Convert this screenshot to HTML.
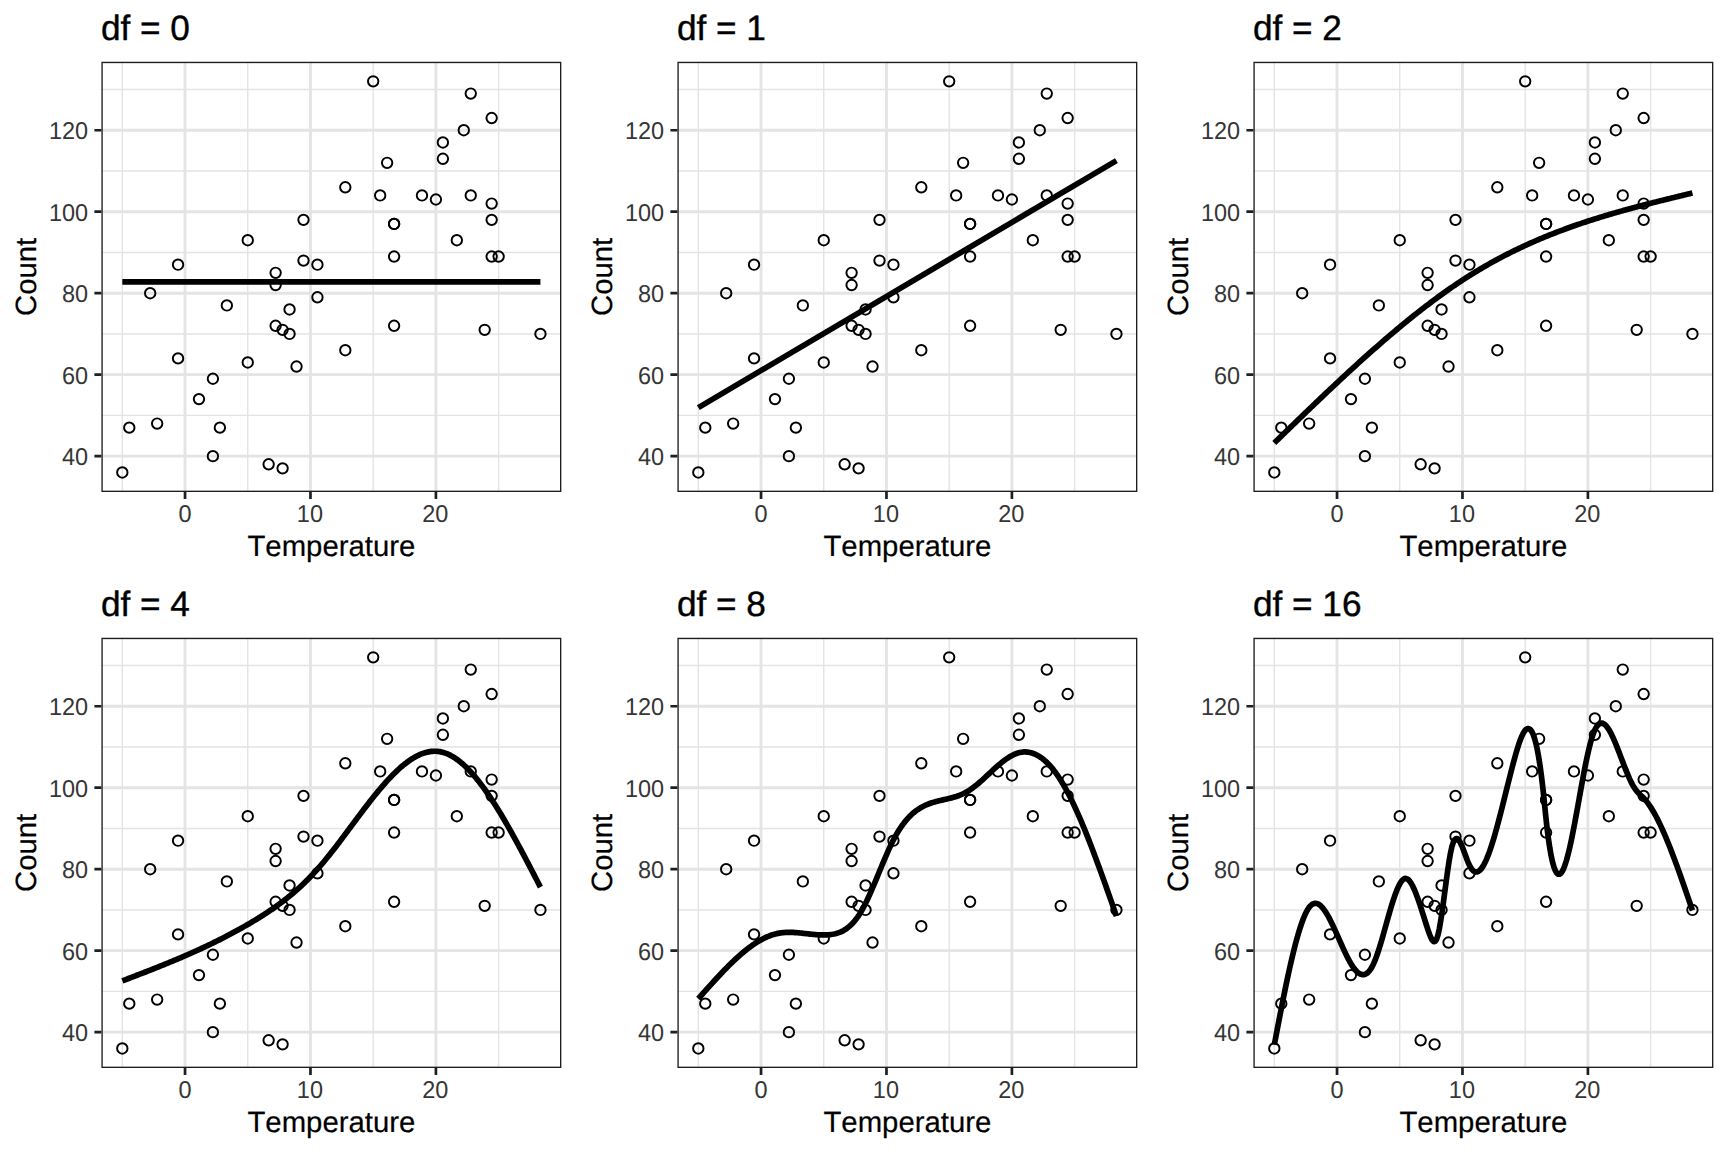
<!DOCTYPE html>
<html lang="en"><head><meta charset="utf-8"><title>Natural spline fits by degrees of freedom</title>
<style>
html,body{margin:0;padding:0;background:#fff}
svg{display:block}
text{font-family:"Liberation Sans",sans-serif;font-kerning:none;text-rendering:geometricPrecision}
.t{font-size:35.2px;fill:#000;stroke:#000;stroke-width:.4px}
.a{font-size:23.47px;fill:#363636}
.l{font-size:29.33px;fill:#000;stroke:#000;stroke-width:.2px}
.mi{stroke:#e4e4e4;stroke-width:1.42;fill:none}
.ma{stroke:#e4e4e4;stroke-width:2.85;fill:none}
.bd{stroke:#1e1e1e;stroke-width:2.7;fill:none}
.tk{stroke:#1f1f1f;stroke-width:2.7;fill:none}
.cv{stroke:#000;stroke-width:5.7;fill:none;stroke-linejoin:round;stroke-linecap:butt}
circle{stroke:#000;stroke-width:1.95;fill:none}
</style></head><body>
<svg width="1728" height="1152" viewBox="0 0 1728 1152">
<defs><clipPath id="pc"><rect x="101.4" y="61.8" width="459.95" height="430.2"/></clipPath></defs>
<rect width="1728" height="1152" fill="#fff"/>
<g transform="translate(0,0)">
<text class="t" x="100.9" y="39.8">df = 0</text>
<g clip-path="url(#pc)">
<rect x="101.4" y="61.8" width="459.95" height="430.2" fill="#fff"/>
<path class="mi" d="M101.4 415.41H561.35M101.4 333.93H561.35M101.4 252.46H561.35M101.4 170.98H561.35M101.4 89.5H561.35M122.31 61.8V492.0M247.75 61.8V492.0M373.19 61.8V492.0M498.63 61.8V492.0"/>
<path class="ma" d="M101.4 456.15H561.35M101.4 374.67H561.35M101.4 293.2H561.35M101.4 211.72H561.35M101.4 130.24H561.35M185.03 61.8V492.0M310.47 61.8V492.0M435.91 61.8V492.0"/>
<circle cx="122.31" cy="472.45" r="5.2"/>
<circle cx="129.28" cy="427.63" r="5.2"/>
<circle cx="157.15" cy="423.56" r="5.2"/>
<circle cx="178.06" cy="358.38" r="5.2"/>
<circle cx="198.97" cy="399.12" r="5.2"/>
<circle cx="212.9" cy="378.75" r="5.2"/>
<circle cx="212.9" cy="456.15" r="5.2"/>
<circle cx="219.87" cy="427.63" r="5.2"/>
<circle cx="247.75" cy="362.45" r="5.2"/>
<circle cx="268.65" cy="464.3" r="5.2"/>
<circle cx="282.59" cy="468.37" r="5.2"/>
<circle cx="296.53" cy="366.52" r="5.2"/>
<circle cx="289.56" cy="333.93" r="5.2"/>
<circle cx="345.31" cy="350.23" r="5.2"/>
<circle cx="150.18" cy="293.2" r="5.2"/>
<circle cx="178.06" cy="264.68" r="5.2"/>
<circle cx="226.84" cy="305.42" r="5.2"/>
<circle cx="247.75" cy="240.24" r="5.2"/>
<circle cx="275.62" cy="272.83" r="5.2"/>
<circle cx="275.62" cy="285.05" r="5.2"/>
<circle cx="275.62" cy="325.79" r="5.2"/>
<circle cx="282.59" cy="329.86" r="5.2"/>
<circle cx="289.56" cy="309.49" r="5.2"/>
<circle cx="303.5" cy="219.87" r="5.2"/>
<circle cx="303.5" cy="260.6" r="5.2"/>
<circle cx="317.44" cy="264.68" r="5.2"/>
<circle cx="317.44" cy="297.27" r="5.2"/>
<circle cx="394.1" cy="223.94" r="5.2"/>
<circle cx="394.1" cy="223.94" r="5.2"/>
<circle cx="394.1" cy="256.53" r="5.2"/>
<circle cx="394.1" cy="325.79" r="5.2"/>
<circle cx="456.82" cy="240.24" r="5.2"/>
<circle cx="491.66" cy="203.57" r="5.2"/>
<circle cx="491.66" cy="219.87" r="5.2"/>
<circle cx="491.66" cy="256.53" r="5.2"/>
<circle cx="498.63" cy="256.53" r="5.2"/>
<circle cx="484.69" cy="329.86" r="5.2"/>
<circle cx="540.44" cy="333.93" r="5.2"/>
<circle cx="380.16" cy="195.42" r="5.2"/>
<circle cx="421.97" cy="195.42" r="5.2"/>
<circle cx="435.91" cy="199.5" r="5.2"/>
<circle cx="470.75" cy="195.42" r="5.2"/>
<circle cx="373.19" cy="81.35" r="5.2"/>
<circle cx="470.75" cy="93.58" r="5.2"/>
<circle cx="491.66" cy="118.02" r="5.2"/>
<circle cx="463.78" cy="130.24" r="5.2"/>
<circle cx="442.88" cy="142.46" r="5.2"/>
<circle cx="442.88" cy="158.76" r="5.2"/>
<circle cx="387.13" cy="162.83" r="5.2"/>
<circle cx="345.31" cy="187.27" r="5.2"/>
<path class="cv" d="M122.31 281.79 L540.44 281.79"/>
<rect class="bd" x="101.4" y="61.8" width="459.95" height="430.2"/>
</g>
<path class="tk" d="M94.4 456.15H101.4M94.4 374.67H101.4M94.4 293.2H101.4M94.4 211.72H101.4M94.4 130.24H101.4M185.03 492.0v7.0M310.47 492.0v7.0M435.91 492.0v7.0"/>
<text class="a" text-anchor="end" transform="translate(88.1,465.05) scale(1,1.04)">40</text>
<text class="a" text-anchor="end" transform="translate(88.1,383.57) scale(1,1.04)">60</text>
<text class="a" text-anchor="end" transform="translate(88.1,302.1) scale(1,1.04)">80</text>
<text class="a" text-anchor="end" transform="translate(88.1,220.62) scale(1,1.04)">100</text>
<text class="a" text-anchor="end" transform="translate(88.1,139.14) scale(1,1.04)">120</text>
<text class="a" text-anchor="middle" transform="translate(185.03,522) scale(1,1.04)">0</text>
<text class="a" text-anchor="middle" transform="translate(309.92,522) scale(1,1.04)">10</text>
<text class="a" text-anchor="middle" transform="translate(435.36,522) scale(1,1.04)">20</text>
<text class="l" text-anchor="middle" x="331.38" y="555.8">Temperature</text>
<text class="l" text-anchor="middle" transform="translate(35.55,276.9) rotate(-90)">Count</text>
</g>
<g transform="translate(576,0)">
<text class="t" x="100.9" y="39.8">df = 1</text>
<g clip-path="url(#pc)">
<rect x="101.4" y="61.8" width="459.95" height="430.2" fill="#fff"/>
<path class="mi" d="M101.4 415.41H561.35M101.4 333.93H561.35M101.4 252.46H561.35M101.4 170.98H561.35M101.4 89.5H561.35M122.31 61.8V492.0M247.75 61.8V492.0M373.19 61.8V492.0M498.63 61.8V492.0"/>
<path class="ma" d="M101.4 456.15H561.35M101.4 374.67H561.35M101.4 293.2H561.35M101.4 211.72H561.35M101.4 130.24H561.35M185.03 61.8V492.0M310.47 61.8V492.0M435.91 61.8V492.0"/>
<circle cx="122.31" cy="472.45" r="5.2"/>
<circle cx="129.28" cy="427.63" r="5.2"/>
<circle cx="157.15" cy="423.56" r="5.2"/>
<circle cx="178.06" cy="358.38" r="5.2"/>
<circle cx="198.97" cy="399.12" r="5.2"/>
<circle cx="212.9" cy="378.75" r="5.2"/>
<circle cx="212.9" cy="456.15" r="5.2"/>
<circle cx="219.87" cy="427.63" r="5.2"/>
<circle cx="247.75" cy="362.45" r="5.2"/>
<circle cx="268.65" cy="464.3" r="5.2"/>
<circle cx="282.59" cy="468.37" r="5.2"/>
<circle cx="296.53" cy="366.52" r="5.2"/>
<circle cx="289.56" cy="333.93" r="5.2"/>
<circle cx="345.31" cy="350.23" r="5.2"/>
<circle cx="150.18" cy="293.2" r="5.2"/>
<circle cx="178.06" cy="264.68" r="5.2"/>
<circle cx="226.84" cy="305.42" r="5.2"/>
<circle cx="247.75" cy="240.24" r="5.2"/>
<circle cx="275.62" cy="272.83" r="5.2"/>
<circle cx="275.62" cy="285.05" r="5.2"/>
<circle cx="275.62" cy="325.79" r="5.2"/>
<circle cx="282.59" cy="329.86" r="5.2"/>
<circle cx="289.56" cy="309.49" r="5.2"/>
<circle cx="303.5" cy="219.87" r="5.2"/>
<circle cx="303.5" cy="260.6" r="5.2"/>
<circle cx="317.44" cy="264.68" r="5.2"/>
<circle cx="317.44" cy="297.27" r="5.2"/>
<circle cx="394.1" cy="223.94" r="5.2"/>
<circle cx="394.1" cy="223.94" r="5.2"/>
<circle cx="394.1" cy="256.53" r="5.2"/>
<circle cx="394.1" cy="325.79" r="5.2"/>
<circle cx="456.82" cy="240.24" r="5.2"/>
<circle cx="491.66" cy="203.57" r="5.2"/>
<circle cx="491.66" cy="219.87" r="5.2"/>
<circle cx="491.66" cy="256.53" r="5.2"/>
<circle cx="498.63" cy="256.53" r="5.2"/>
<circle cx="484.69" cy="329.86" r="5.2"/>
<circle cx="540.44" cy="333.93" r="5.2"/>
<circle cx="380.16" cy="195.42" r="5.2"/>
<circle cx="421.97" cy="195.42" r="5.2"/>
<circle cx="435.91" cy="199.5" r="5.2"/>
<circle cx="470.75" cy="195.42" r="5.2"/>
<circle cx="373.19" cy="81.35" r="5.2"/>
<circle cx="470.75" cy="93.58" r="5.2"/>
<circle cx="491.66" cy="118.02" r="5.2"/>
<circle cx="463.78" cy="130.24" r="5.2"/>
<circle cx="442.88" cy="142.46" r="5.2"/>
<circle cx="442.88" cy="158.76" r="5.2"/>
<circle cx="387.13" cy="162.83" r="5.2"/>
<circle cx="345.31" cy="187.27" r="5.2"/>
<path class="cv" d="M122.31 407.59 L540.44 160.59"/>
<rect class="bd" x="101.4" y="61.8" width="459.95" height="430.2"/>
</g>
<path class="tk" d="M94.4 456.15H101.4M94.4 374.67H101.4M94.4 293.2H101.4M94.4 211.72H101.4M94.4 130.24H101.4M185.03 492.0v7.0M310.47 492.0v7.0M435.91 492.0v7.0"/>
<text class="a" text-anchor="end" transform="translate(88.1,465.05) scale(1,1.04)">40</text>
<text class="a" text-anchor="end" transform="translate(88.1,383.57) scale(1,1.04)">60</text>
<text class="a" text-anchor="end" transform="translate(88.1,302.1) scale(1,1.04)">80</text>
<text class="a" text-anchor="end" transform="translate(88.1,220.62) scale(1,1.04)">100</text>
<text class="a" text-anchor="end" transform="translate(88.1,139.14) scale(1,1.04)">120</text>
<text class="a" text-anchor="middle" transform="translate(185.03,522) scale(1,1.04)">0</text>
<text class="a" text-anchor="middle" transform="translate(309.92,522) scale(1,1.04)">10</text>
<text class="a" text-anchor="middle" transform="translate(435.36,522) scale(1,1.04)">20</text>
<text class="l" text-anchor="middle" x="331.38" y="555.8">Temperature</text>
<text class="l" text-anchor="middle" transform="translate(35.55,276.9) rotate(-90)">Count</text>
</g>
<g transform="translate(1152,0)">
<text class="t" x="100.9" y="39.8">df = 2</text>
<g clip-path="url(#pc)">
<rect x="101.4" y="61.8" width="459.95" height="430.2" fill="#fff"/>
<path class="mi" d="M101.4 415.41H561.35M101.4 333.93H561.35M101.4 252.46H561.35M101.4 170.98H561.35M101.4 89.5H561.35M122.31 61.8V492.0M247.75 61.8V492.0M373.19 61.8V492.0M498.63 61.8V492.0"/>
<path class="ma" d="M101.4 456.15H561.35M101.4 374.67H561.35M101.4 293.2H561.35M101.4 211.72H561.35M101.4 130.24H561.35M185.03 61.8V492.0M310.47 61.8V492.0M435.91 61.8V492.0"/>
<circle cx="122.31" cy="472.45" r="5.2"/>
<circle cx="129.28" cy="427.63" r="5.2"/>
<circle cx="157.15" cy="423.56" r="5.2"/>
<circle cx="178.06" cy="358.38" r="5.2"/>
<circle cx="198.97" cy="399.12" r="5.2"/>
<circle cx="212.9" cy="378.75" r="5.2"/>
<circle cx="212.9" cy="456.15" r="5.2"/>
<circle cx="219.87" cy="427.63" r="5.2"/>
<circle cx="247.75" cy="362.45" r="5.2"/>
<circle cx="268.65" cy="464.3" r="5.2"/>
<circle cx="282.59" cy="468.37" r="5.2"/>
<circle cx="296.53" cy="366.52" r="5.2"/>
<circle cx="289.56" cy="333.93" r="5.2"/>
<circle cx="345.31" cy="350.23" r="5.2"/>
<circle cx="150.18" cy="293.2" r="5.2"/>
<circle cx="178.06" cy="264.68" r="5.2"/>
<circle cx="226.84" cy="305.42" r="5.2"/>
<circle cx="247.75" cy="240.24" r="5.2"/>
<circle cx="275.62" cy="272.83" r="5.2"/>
<circle cx="275.62" cy="285.05" r="5.2"/>
<circle cx="275.62" cy="325.79" r="5.2"/>
<circle cx="282.59" cy="329.86" r="5.2"/>
<circle cx="289.56" cy="309.49" r="5.2"/>
<circle cx="303.5" cy="219.87" r="5.2"/>
<circle cx="303.5" cy="260.6" r="5.2"/>
<circle cx="317.44" cy="264.68" r="5.2"/>
<circle cx="317.44" cy="297.27" r="5.2"/>
<circle cx="394.1" cy="223.94" r="5.2"/>
<circle cx="394.1" cy="223.94" r="5.2"/>
<circle cx="394.1" cy="256.53" r="5.2"/>
<circle cx="394.1" cy="325.79" r="5.2"/>
<circle cx="456.82" cy="240.24" r="5.2"/>
<circle cx="491.66" cy="203.57" r="5.2"/>
<circle cx="491.66" cy="219.87" r="5.2"/>
<circle cx="491.66" cy="256.53" r="5.2"/>
<circle cx="498.63" cy="256.53" r="5.2"/>
<circle cx="484.69" cy="329.86" r="5.2"/>
<circle cx="540.44" cy="333.93" r="5.2"/>
<circle cx="380.16" cy="195.42" r="5.2"/>
<circle cx="421.97" cy="195.42" r="5.2"/>
<circle cx="435.91" cy="199.5" r="5.2"/>
<circle cx="470.75" cy="195.42" r="5.2"/>
<circle cx="373.19" cy="81.35" r="5.2"/>
<circle cx="470.75" cy="93.58" r="5.2"/>
<circle cx="491.66" cy="118.02" r="5.2"/>
<circle cx="463.78" cy="130.24" r="5.2"/>
<circle cx="442.88" cy="142.46" r="5.2"/>
<circle cx="442.88" cy="158.76" r="5.2"/>
<circle cx="387.13" cy="162.83" r="5.2"/>
<circle cx="345.31" cy="187.27" r="5.2"/>
<path class="cv" d="M122.31 442.93 L123.71 441.57 L125.1 440.21 L126.5 438.86 L127.9 437.5 L129.3 436.14 L130.7 434.79 L132.1 433.43 L133.49 432.07 L134.89 430.72 L136.29 429.36 L137.69 428.01 L139.09 426.65 L140.49 425.3 L141.89 423.95 L143.28 422.59 L144.68 421.24 L146.08 419.89 L147.48 418.54 L148.88 417.19 L150.28 415.85 L151.67 414.5 L153.07 413.15 L154.47 411.81 L155.87 410.46 L157.27 409.12 L158.67 407.78 L160.06 406.44 L161.46 405.1 L162.86 403.76 L164.26 402.43 L165.66 401.09 L167.06 399.76 L168.46 398.43 L169.85 397.1 L171.25 395.77 L172.65 394.44 L174.05 393.12 L175.45 391.79 L176.85 390.47 L178.24 389.15 L179.64 387.84 L181.04 386.52 L182.44 385.21 L183.84 383.9 L185.24 382.59 L186.64 381.28 L188.03 379.98 L189.43 378.67 L190.83 377.37 L192.23 376.08 L193.63 374.78 L195.03 373.49 L196.42 372.2 L197.82 370.91 L199.22 369.63 L200.62 368.34 L202.02 367.06 L203.42 365.79 L204.82 364.51 L206.21 363.24 L207.61 361.97 L209.01 360.71 L210.41 359.45 L211.81 358.19 L213.21 356.93 L214.6 355.68 L216 354.43 L217.4 353.19 L218.8 351.94 L220.2 350.7 L221.6 349.47 L223 348.24 L224.39 347.01 L225.79 345.78 L227.19 344.56 L228.59 343.34 L229.99 342.13 L231.39 340.92 L232.78 339.71 L234.18 338.51 L235.58 337.31 L236.98 336.11 L238.38 334.92 L239.78 333.74 L241.18 332.55 L242.57 331.37 L243.97 330.2 L245.37 329.03 L246.77 327.86 L248.17 326.7 L249.57 325.54 L250.96 324.39 L252.36 323.24 L253.76 322.1 L255.16 320.96 L256.56 319.83 L257.96 318.7 L259.35 317.57 L260.75 316.45 L262.15 315.34 L263.55 314.23 L264.95 313.12 L266.35 312.02 L267.75 310.92 L269.14 309.83 L270.54 308.75 L271.94 307.67 L273.34 306.59 L274.74 305.52 L276.14 304.46 L277.53 303.4 L278.93 302.35 L280.33 301.3 L281.73 300.26 L283.13 299.22 L284.53 298.19 L285.93 297.16 L287.32 296.14 L288.72 295.13 L290.12 294.12 L291.52 293.12 L292.92 292.12 L294.32 291.13 L295.71 290.15 L297.11 289.17 L298.51 288.2 L299.91 287.23 L301.31 286.27 L302.71 285.32 L304.11 284.37 L305.5 283.43 L306.9 282.5 L308.3 281.57 L309.7 280.65 L311.1 279.73 L312.5 278.82 L313.89 277.92 L315.29 277.03 L316.69 276.14 L318.09 275.26 L319.49 274.38 L320.89 273.51 L322.29 272.65 L323.68 271.8 L325.08 270.95 L326.48 270.11 L327.88 269.28 L329.28 268.45 L330.68 267.63 L332.07 266.81 L333.47 266 L334.87 265.2 L336.27 264.4 L337.67 263.61 L339.07 262.83 L340.46 262.05 L341.86 261.28 L343.26 260.51 L344.66 259.75 L346.06 259 L347.46 258.25 L348.86 257.51 L350.25 256.78 L351.65 256.05 L353.05 255.32 L354.45 254.6 L355.85 253.89 L357.25 253.18 L358.64 252.48 L360.04 251.79 L361.44 251.1 L362.84 250.41 L364.24 249.73 L365.64 249.06 L367.04 248.39 L368.43 247.72 L369.83 247.07 L371.23 246.41 L372.63 245.77 L374.03 245.12 L375.43 244.49 L376.82 243.85 L378.22 243.23 L379.62 242.6 L381.02 241.99 L382.42 241.37 L383.82 240.76 L385.22 240.16 L386.61 239.56 L388.01 238.97 L389.41 238.38 L390.81 237.8 L392.21 237.22 L393.61 236.64 L395 236.07 L396.4 235.5 L397.8 234.94 L399.2 234.39 L400.6 233.83 L402 233.28 L403.4 232.74 L404.79 232.2 L406.19 231.66 L407.59 231.13 L408.99 230.6 L410.39 230.08 L411.79 229.56 L413.18 229.04 L414.58 228.53 L415.98 228.02 L417.38 227.52 L418.78 227.01 L420.18 226.52 L421.57 226.02 L422.97 225.53 L424.37 225.05 L425.77 224.57 L427.17 224.09 L428.57 223.61 L429.97 223.14 L431.36 222.67 L432.76 222.2 L434.16 221.74 L435.56 221.28 L436.96 220.83 L438.36 220.37 L439.75 219.93 L441.15 219.48 L442.55 219.04 L443.95 218.59 L445.35 218.16 L446.75 217.72 L448.15 217.29 L449.54 216.86 L450.94 216.44 L452.34 216.01 L453.74 215.59 L455.14 215.17 L456.54 214.76 L457.93 214.35 L459.33 213.94 L460.73 213.53 L462.13 213.12 L463.53 212.72 L464.93 212.32 L466.33 211.92 L467.72 211.53 L469.12 211.13 L470.52 210.74 L471.92 210.35 L473.32 209.96 L474.72 209.58 L476.11 209.19 L477.51 208.81 L478.91 208.43 L480.31 208.06 L481.71 207.68 L483.11 207.31 L484.51 206.94 L485.9 206.56 L487.3 206.2 L488.7 205.83 L490.1 205.46 L491.5 205.1 L492.9 204.74 L494.29 204.38 L495.69 204.02 L497.09 203.66 L498.49 203.3 L499.89 202.95 L501.29 202.59 L502.69 202.24 L504.08 201.89 L505.48 201.54 L506.88 201.19 L508.28 200.84 L509.68 200.49 L511.08 200.14 L512.47 199.8 L513.87 199.45 L515.27 199.11 L516.67 198.76 L518.07 198.42 L519.47 198.08 L520.86 197.74 L522.26 197.4 L523.66 197.05 L525.06 196.72 L526.46 196.38 L527.86 196.04 L529.26 195.7 L530.65 195.36 L532.05 195.02 L533.45 194.68 L534.85 194.35 L536.25 194.01 L537.65 193.67 L539.04 193.34 L540.44 193"/>
<rect class="bd" x="101.4" y="61.8" width="459.95" height="430.2"/>
</g>
<path class="tk" d="M94.4 456.15H101.4M94.4 374.67H101.4M94.4 293.2H101.4M94.4 211.72H101.4M94.4 130.24H101.4M185.03 492.0v7.0M310.47 492.0v7.0M435.91 492.0v7.0"/>
<text class="a" text-anchor="end" transform="translate(88.1,465.05) scale(1,1.04)">40</text>
<text class="a" text-anchor="end" transform="translate(88.1,383.57) scale(1,1.04)">60</text>
<text class="a" text-anchor="end" transform="translate(88.1,302.1) scale(1,1.04)">80</text>
<text class="a" text-anchor="end" transform="translate(88.1,220.62) scale(1,1.04)">100</text>
<text class="a" text-anchor="end" transform="translate(88.1,139.14) scale(1,1.04)">120</text>
<text class="a" text-anchor="middle" transform="translate(185.03,522) scale(1,1.04)">0</text>
<text class="a" text-anchor="middle" transform="translate(309.92,522) scale(1,1.04)">10</text>
<text class="a" text-anchor="middle" transform="translate(435.36,522) scale(1,1.04)">20</text>
<text class="l" text-anchor="middle" x="331.38" y="555.8">Temperature</text>
<text class="l" text-anchor="middle" transform="translate(35.55,276.9) rotate(-90)">Count</text>
</g>
<g transform="translate(0,576)">
<text class="t" x="100.9" y="39.8">df = 4</text>
<g clip-path="url(#pc)">
<rect x="101.4" y="61.8" width="459.95" height="430.2" fill="#fff"/>
<path class="mi" d="M101.4 415.41H561.35M101.4 333.93H561.35M101.4 252.46H561.35M101.4 170.98H561.35M101.4 89.5H561.35M122.31 61.8V492.0M247.75 61.8V492.0M373.19 61.8V492.0M498.63 61.8V492.0"/>
<path class="ma" d="M101.4 456.15H561.35M101.4 374.67H561.35M101.4 293.2H561.35M101.4 211.72H561.35M101.4 130.24H561.35M185.03 61.8V492.0M310.47 61.8V492.0M435.91 61.8V492.0"/>
<circle cx="122.31" cy="472.45" r="5.2"/>
<circle cx="129.28" cy="427.63" r="5.2"/>
<circle cx="157.15" cy="423.56" r="5.2"/>
<circle cx="178.06" cy="358.38" r="5.2"/>
<circle cx="198.97" cy="399.12" r="5.2"/>
<circle cx="212.9" cy="378.75" r="5.2"/>
<circle cx="212.9" cy="456.15" r="5.2"/>
<circle cx="219.87" cy="427.63" r="5.2"/>
<circle cx="247.75" cy="362.45" r="5.2"/>
<circle cx="268.65" cy="464.3" r="5.2"/>
<circle cx="282.59" cy="468.37" r="5.2"/>
<circle cx="296.53" cy="366.52" r="5.2"/>
<circle cx="289.56" cy="333.93" r="5.2"/>
<circle cx="345.31" cy="350.23" r="5.2"/>
<circle cx="150.18" cy="293.2" r="5.2"/>
<circle cx="178.06" cy="264.68" r="5.2"/>
<circle cx="226.84" cy="305.42" r="5.2"/>
<circle cx="247.75" cy="240.24" r="5.2"/>
<circle cx="275.62" cy="272.83" r="5.2"/>
<circle cx="275.62" cy="285.05" r="5.2"/>
<circle cx="275.62" cy="325.79" r="5.2"/>
<circle cx="282.59" cy="329.86" r="5.2"/>
<circle cx="289.56" cy="309.49" r="5.2"/>
<circle cx="303.5" cy="219.87" r="5.2"/>
<circle cx="303.5" cy="260.6" r="5.2"/>
<circle cx="317.44" cy="264.68" r="5.2"/>
<circle cx="317.44" cy="297.27" r="5.2"/>
<circle cx="394.1" cy="223.94" r="5.2"/>
<circle cx="394.1" cy="223.94" r="5.2"/>
<circle cx="394.1" cy="256.53" r="5.2"/>
<circle cx="394.1" cy="325.79" r="5.2"/>
<circle cx="456.82" cy="240.24" r="5.2"/>
<circle cx="491.66" cy="203.57" r="5.2"/>
<circle cx="491.66" cy="219.87" r="5.2"/>
<circle cx="491.66" cy="256.53" r="5.2"/>
<circle cx="498.63" cy="256.53" r="5.2"/>
<circle cx="484.69" cy="329.86" r="5.2"/>
<circle cx="540.44" cy="333.93" r="5.2"/>
<circle cx="380.16" cy="195.42" r="5.2"/>
<circle cx="421.97" cy="195.42" r="5.2"/>
<circle cx="435.91" cy="199.5" r="5.2"/>
<circle cx="470.75" cy="195.42" r="5.2"/>
<circle cx="373.19" cy="81.35" r="5.2"/>
<circle cx="470.75" cy="93.58" r="5.2"/>
<circle cx="491.66" cy="118.02" r="5.2"/>
<circle cx="463.78" cy="130.24" r="5.2"/>
<circle cx="442.88" cy="142.46" r="5.2"/>
<circle cx="442.88" cy="158.76" r="5.2"/>
<circle cx="387.13" cy="162.83" r="5.2"/>
<circle cx="345.31" cy="187.27" r="5.2"/>
<path class="cv" d="M122.31 404.91 L123.71 404.38 L125.1 403.84 L126.5 403.3 L127.9 402.76 L129.3 402.23 L130.7 401.69 L132.1 401.15 L133.49 400.61 L134.89 400.07 L136.29 399.53 L137.69 398.99 L139.09 398.45 L140.49 397.91 L141.89 397.36 L143.28 396.82 L144.68 396.27 L146.08 395.73 L147.48 395.18 L148.88 394.63 L150.28 394.08 L151.67 393.53 L153.07 392.98 L154.47 392.42 L155.87 391.87 L157.27 391.31 L158.67 390.75 L160.06 390.19 L161.46 389.63 L162.86 389.06 L164.26 388.49 L165.66 387.93 L167.06 387.35 L168.46 386.78 L169.85 386.21 L171.25 385.63 L172.65 385.05 L174.05 384.46 L175.45 383.88 L176.85 383.29 L178.24 382.7 L179.64 382.11 L181.04 381.51 L182.44 380.91 L183.84 380.31 L185.24 379.71 L186.64 379.1 L188.03 378.49 L189.43 377.87 L190.83 377.25 L192.23 376.63 L193.63 376.01 L195.03 375.38 L196.42 374.75 L197.82 374.11 L199.22 373.47 L200.62 372.83 L202.02 372.18 L203.42 371.53 L204.82 370.88 L206.21 370.22 L207.61 369.56 L209.01 368.89 L210.41 368.22 L211.81 367.54 L213.21 366.86 L214.6 366.18 L216 365.49 L217.4 364.8 L218.8 364.1 L220.2 363.4 L221.6 362.69 L223 361.98 L224.39 361.26 L225.79 360.54 L227.19 359.81 L228.59 359.08 L229.99 358.34 L231.39 357.59 L232.78 356.84 L234.18 356.09 L235.58 355.33 L236.98 354.57 L238.38 353.79 L239.78 353.02 L241.18 352.24 L242.57 351.45 L243.97 350.65 L245.37 349.85 L246.77 349.05 L248.17 348.24 L249.57 347.42 L250.96 346.59 L252.36 345.76 L253.76 344.92 L255.16 344.08 L256.56 343.23 L257.96 342.37 L259.35 341.5 L260.75 340.63 L262.15 339.75 L263.55 338.85 L264.95 337.95 L266.35 337.04 L267.75 336.12 L269.14 335.18 L270.54 334.24 L271.94 333.28 L273.34 332.31 L274.74 331.33 L276.14 330.34 L277.53 329.33 L278.93 328.31 L280.33 327.28 L281.73 326.23 L283.13 325.16 L284.53 324.08 L285.93 322.99 L287.32 321.88 L288.72 320.75 L290.12 319.6 L291.52 318.44 L292.92 317.26 L294.32 316.06 L295.71 314.84 L297.11 313.61 L298.51 312.35 L299.91 311.07 L301.31 309.78 L302.71 308.46 L304.11 307.12 L305.5 305.76 L306.9 304.38 L308.3 302.98 L309.7 301.55 L311.1 300.1 L312.5 298.62 L313.89 297.13 L315.29 295.6 L316.69 294.06 L318.09 292.48 L319.49 290.89 L320.89 289.26 L322.29 287.62 L323.68 285.95 L325.08 284.27 L326.48 282.56 L327.88 280.83 L329.28 279.09 L330.68 277.33 L332.07 275.55 L333.47 273.76 L334.87 271.96 L336.27 270.14 L337.67 268.32 L339.07 266.48 L340.46 264.63 L341.86 262.78 L343.26 260.91 L344.66 259.05 L346.06 257.17 L347.46 255.3 L348.86 253.42 L350.25 251.53 L351.65 249.65 L353.05 247.77 L354.45 245.89 L355.85 244.01 L357.25 242.14 L358.64 240.27 L360.04 238.4 L361.44 236.54 L362.84 234.69 L364.24 232.85 L365.64 231.02 L367.04 229.2 L368.43 227.39 L369.83 225.59 L371.23 223.81 L372.63 222.04 L374.03 220.29 L375.43 218.56 L376.82 216.84 L378.22 215.15 L379.62 213.47 L381.02 211.81 L382.42 210.18 L383.82 208.57 L385.22 206.99 L386.61 205.43 L388.01 203.9 L389.41 202.4 L390.81 200.92 L392.21 199.48 L393.61 198.06 L395 196.68 L396.4 195.33 L397.8 194.02 L399.2 192.74 L400.6 191.49 L402 190.28 L403.4 189.12 L404.79 187.99 L406.19 186.9 L407.59 185.85 L408.99 184.85 L410.39 183.89 L411.79 182.97 L413.18 182.1 L414.58 181.28 L415.98 180.5 L417.38 179.77 L418.78 179.1 L420.18 178.47 L421.57 177.9 L422.97 177.38 L424.37 176.91 L425.77 176.5 L427.17 176.14 L428.57 175.84 L429.97 175.6 L431.36 175.42 L432.76 175.3 L434.16 175.24 L435.56 175.25 L436.96 175.32 L438.36 175.45 L439.75 175.65 L441.15 175.91 L442.55 176.25 L443.95 176.65 L445.35 177.11 L446.75 177.64 L448.15 178.24 L449.54 178.89 L450.94 179.61 L452.34 180.4 L453.74 181.24 L455.14 182.14 L456.54 183.1 L457.93 184.11 L459.33 185.18 L460.73 186.31 L462.13 187.5 L463.53 188.73 L464.93 190.02 L466.33 191.36 L467.72 192.75 L469.12 194.19 L470.52 195.68 L471.92 197.22 L473.32 198.8 L474.72 200.43 L476.11 202.11 L477.51 203.82 L478.91 205.59 L480.31 207.39 L481.71 209.23 L483.11 211.12 L484.51 213.04 L485.9 215 L487.3 217 L488.7 219.04 L490.1 221.11 L491.5 223.22 L492.9 225.36 L494.29 227.53 L495.69 229.73 L497.09 231.96 L498.49 234.23 L499.89 236.52 L501.29 238.84 L502.69 241.19 L504.08 243.56 L505.48 245.95 L506.88 248.38 L508.28 250.82 L509.68 253.29 L511.08 255.77 L512.47 258.28 L513.87 260.81 L515.27 263.35 L516.67 265.91 L518.07 268.49 L519.47 271.08 L520.86 273.69 L522.26 276.31 L523.66 278.94 L525.06 281.59 L526.46 284.24 L527.86 286.91 L529.26 289.58 L530.65 292.26 L532.05 294.95 L533.45 297.64 L534.85 300.34 L536.25 303.04 L537.65 305.75 L539.04 308.45 L540.44 311.16"/>
<rect class="bd" x="101.4" y="61.8" width="459.95" height="430.2"/>
</g>
<path class="tk" d="M94.4 456.15H101.4M94.4 374.67H101.4M94.4 293.2H101.4M94.4 211.72H101.4M94.4 130.24H101.4M185.03 492.0v7.0M310.47 492.0v7.0M435.91 492.0v7.0"/>
<text class="a" text-anchor="end" transform="translate(88.1,465.05) scale(1,1.04)">40</text>
<text class="a" text-anchor="end" transform="translate(88.1,383.57) scale(1,1.04)">60</text>
<text class="a" text-anchor="end" transform="translate(88.1,302.1) scale(1,1.04)">80</text>
<text class="a" text-anchor="end" transform="translate(88.1,220.62) scale(1,1.04)">100</text>
<text class="a" text-anchor="end" transform="translate(88.1,139.14) scale(1,1.04)">120</text>
<text class="a" text-anchor="middle" transform="translate(185.03,522) scale(1,1.04)">0</text>
<text class="a" text-anchor="middle" transform="translate(309.92,522) scale(1,1.04)">10</text>
<text class="a" text-anchor="middle" transform="translate(435.36,522) scale(1,1.04)">20</text>
<text class="l" text-anchor="middle" x="331.38" y="555.8">Temperature</text>
<text class="l" text-anchor="middle" transform="translate(35.55,276.9) rotate(-90)">Count</text>
</g>
<g transform="translate(576,576)">
<text class="t" x="100.9" y="39.8">df = 8</text>
<g clip-path="url(#pc)">
<rect x="101.4" y="61.8" width="459.95" height="430.2" fill="#fff"/>
<path class="mi" d="M101.4 415.41H561.35M101.4 333.93H561.35M101.4 252.46H561.35M101.4 170.98H561.35M101.4 89.5H561.35M122.31 61.8V492.0M247.75 61.8V492.0M373.19 61.8V492.0M498.63 61.8V492.0"/>
<path class="ma" d="M101.4 456.15H561.35M101.4 374.67H561.35M101.4 293.2H561.35M101.4 211.72H561.35M101.4 130.24H561.35M185.03 61.8V492.0M310.47 61.8V492.0M435.91 61.8V492.0"/>
<circle cx="122.31" cy="472.45" r="5.2"/>
<circle cx="129.28" cy="427.63" r="5.2"/>
<circle cx="157.15" cy="423.56" r="5.2"/>
<circle cx="178.06" cy="358.38" r="5.2"/>
<circle cx="198.97" cy="399.12" r="5.2"/>
<circle cx="212.9" cy="378.75" r="5.2"/>
<circle cx="212.9" cy="456.15" r="5.2"/>
<circle cx="219.87" cy="427.63" r="5.2"/>
<circle cx="247.75" cy="362.45" r="5.2"/>
<circle cx="268.65" cy="464.3" r="5.2"/>
<circle cx="282.59" cy="468.37" r="5.2"/>
<circle cx="296.53" cy="366.52" r="5.2"/>
<circle cx="289.56" cy="333.93" r="5.2"/>
<circle cx="345.31" cy="350.23" r="5.2"/>
<circle cx="150.18" cy="293.2" r="5.2"/>
<circle cx="178.06" cy="264.68" r="5.2"/>
<circle cx="226.84" cy="305.42" r="5.2"/>
<circle cx="247.75" cy="240.24" r="5.2"/>
<circle cx="275.62" cy="272.83" r="5.2"/>
<circle cx="275.62" cy="285.05" r="5.2"/>
<circle cx="275.62" cy="325.79" r="5.2"/>
<circle cx="282.59" cy="329.86" r="5.2"/>
<circle cx="289.56" cy="309.49" r="5.2"/>
<circle cx="303.5" cy="219.87" r="5.2"/>
<circle cx="303.5" cy="260.6" r="5.2"/>
<circle cx="317.44" cy="264.68" r="5.2"/>
<circle cx="317.44" cy="297.27" r="5.2"/>
<circle cx="394.1" cy="223.94" r="5.2"/>
<circle cx="394.1" cy="223.94" r="5.2"/>
<circle cx="394.1" cy="256.53" r="5.2"/>
<circle cx="394.1" cy="325.79" r="5.2"/>
<circle cx="456.82" cy="240.24" r="5.2"/>
<circle cx="491.66" cy="203.57" r="5.2"/>
<circle cx="491.66" cy="219.87" r="5.2"/>
<circle cx="491.66" cy="256.53" r="5.2"/>
<circle cx="498.63" cy="256.53" r="5.2"/>
<circle cx="484.69" cy="329.86" r="5.2"/>
<circle cx="540.44" cy="333.93" r="5.2"/>
<circle cx="380.16" cy="195.42" r="5.2"/>
<circle cx="421.97" cy="195.42" r="5.2"/>
<circle cx="435.91" cy="199.5" r="5.2"/>
<circle cx="470.75" cy="195.42" r="5.2"/>
<circle cx="373.19" cy="81.35" r="5.2"/>
<circle cx="470.75" cy="93.58" r="5.2"/>
<circle cx="491.66" cy="118.02" r="5.2"/>
<circle cx="463.78" cy="130.24" r="5.2"/>
<circle cx="442.88" cy="142.46" r="5.2"/>
<circle cx="442.88" cy="158.76" r="5.2"/>
<circle cx="387.13" cy="162.83" r="5.2"/>
<circle cx="345.31" cy="187.27" r="5.2"/>
<path class="cv" d="M122.31 422.74 L123.71 421.16 L125.1 419.58 L126.5 418 L127.9 416.42 L129.3 414.84 L130.7 413.27 L132.1 411.7 L133.49 410.14 L134.89 408.59 L136.29 407.04 L137.69 405.5 L139.09 403.97 L140.49 402.45 L141.89 400.94 L143.28 399.44 L144.68 397.96 L146.08 396.48 L147.48 395.02 L148.88 393.58 L150.28 392.15 L151.67 390.73 L153.07 389.33 L154.47 387.95 L155.87 386.59 L157.27 385.25 L158.67 383.93 L160.06 382.63 L161.46 381.35 L162.86 380.1 L164.26 378.86 L165.66 377.65 L167.06 376.47 L168.46 375.31 L169.85 374.18 L171.25 373.08 L172.65 372 L174.05 370.95 L175.45 369.94 L176.85 368.95 L178.24 368 L179.64 367.07 L181.04 366.18 L182.44 365.33 L183.84 364.51 L185.24 363.72 L186.64 362.97 L188.03 362.26 L189.43 361.59 L190.83 360.95 L192.23 360.35 L193.63 359.8 L195.03 359.28 L196.42 358.81 L197.82 358.38 L199.22 357.99 L200.62 357.65 L202.02 357.36 L203.42 357.1 L204.82 356.89 L206.21 356.71 L207.61 356.58 L209.01 356.47 L210.41 356.4 L211.81 356.36 L213.21 356.35 L214.6 356.36 L216 356.4 L217.4 356.46 L218.8 356.54 L220.2 356.64 L221.6 356.75 L223 356.88 L224.39 357.01 L225.79 357.16 L227.19 357.31 L228.59 357.47 L229.99 357.63 L231.39 357.79 L232.78 357.94 L234.18 358.1 L235.58 358.25 L236.98 358.39 L238.38 358.52 L239.78 358.63 L241.18 358.73 L242.57 358.82 L243.97 358.89 L245.37 358.93 L246.77 358.96 L248.17 358.95 L249.57 358.92 L250.96 358.86 L252.36 358.77 L253.76 358.65 L255.16 358.48 L256.56 358.27 L257.96 358.02 L259.35 357.71 L260.75 357.34 L262.15 356.9 L263.55 356.4 L264.95 355.82 L266.35 355.15 L267.75 354.4 L269.14 353.56 L270.54 352.62 L271.94 351.57 L273.34 350.42 L274.74 349.15 L276.14 347.76 L277.53 346.25 L278.93 344.6 L280.33 342.82 L281.73 340.9 L283.13 338.83 L284.53 336.61 L285.93 334.23 L287.32 331.69 L288.72 329.02 L290.12 326.21 L291.52 323.29 L292.92 320.26 L294.32 317.15 L295.71 313.96 L297.11 310.7 L298.51 307.39 L299.91 304.03 L301.31 300.66 L302.71 297.26 L304.11 293.87 L305.5 290.49 L306.9 287.13 L308.3 283.8 L309.7 280.53 L311.1 277.32 L312.5 274.18 L313.89 271.13 L315.29 268.18 L316.69 265.35 L318.09 262.64 L319.49 260.05 L320.89 257.6 L322.29 255.27 L323.68 253.06 L325.08 250.96 L326.48 248.98 L327.88 247.11 L329.28 245.34 L330.68 243.67 L332.07 242.1 L333.47 240.62 L334.87 239.24 L336.27 237.94 L337.67 236.72 L339.07 235.58 L340.46 234.52 L341.86 233.53 L343.26 232.61 L344.66 231.76 L346.06 230.96 L347.46 230.22 L348.86 229.54 L350.25 228.9 L351.65 228.32 L353.05 227.77 L354.45 227.27 L355.85 226.8 L357.25 226.36 L358.64 225.95 L360.04 225.56 L361.44 225.19 L362.84 224.85 L364.24 224.51 L365.64 224.19 L367.04 223.87 L368.43 223.55 L369.83 223.23 L371.23 222.91 L372.63 222.58 L374.03 222.23 L375.43 221.88 L376.82 221.5 L378.22 221.09 L379.62 220.66 L381.02 220.21 L382.42 219.71 L383.82 219.18 L385.22 218.61 L386.61 217.99 L388.01 217.32 L389.41 216.6 L390.81 215.83 L392.21 214.99 L393.61 214.09 L395 213.14 L396.4 212.14 L397.8 211.09 L399.2 210 L400.6 208.87 L402 207.7 L403.4 206.5 L404.79 205.28 L406.19 204.03 L407.59 202.77 L408.99 201.48 L410.39 200.19 L411.79 198.89 L413.18 197.59 L414.58 196.29 L415.98 194.99 L417.38 193.71 L418.78 192.44 L420.18 191.18 L421.57 189.95 L422.97 188.74 L424.37 187.57 L425.77 186.42 L427.17 185.32 L428.57 184.25 L429.97 183.24 L431.36 182.27 L432.76 181.35 L434.16 180.5 L435.56 179.71 L436.96 178.98 L438.36 178.32 L439.75 177.74 L441.15 177.24 L442.55 176.82 L443.95 176.48 L445.35 176.22 L446.75 176.05 L448.15 175.96 L449.54 175.96 L450.94 176.03 L452.34 176.2 L453.74 176.45 L455.14 176.78 L456.54 177.2 L457.93 177.7 L459.33 178.29 L460.73 178.97 L462.13 179.73 L463.53 180.58 L464.93 181.51 L466.33 182.54 L467.72 183.65 L469.12 184.85 L470.52 186.13 L471.92 187.51 L473.32 188.97 L474.72 190.52 L476.11 192.16 L477.51 193.89 L478.91 195.72 L480.31 197.63 L481.71 199.63 L483.11 201.72 L484.51 203.9 L485.9 206.17 L487.3 208.53 L488.7 210.97 L490.1 213.49 L491.5 216.09 L492.9 218.77 L494.29 221.52 L495.69 224.35 L497.09 227.25 L498.49 230.21 L499.89 233.24 L501.29 236.34 L502.69 239.5 L504.08 242.71 L505.48 245.99 L506.88 249.32 L508.28 252.7 L509.68 256.14 L511.08 259.62 L512.47 263.15 L513.87 266.72 L515.27 270.34 L516.67 273.99 L518.07 277.68 L519.47 281.41 L520.86 285.17 L522.26 288.96 L523.66 292.78 L525.06 296.63 L526.46 300.5 L527.86 304.4 L529.26 308.31 L530.65 312.24 L532.05 316.19 L533.45 320.15 L534.85 324.12 L536.25 328.1 L537.65 332.08 L539.04 336.07 L540.44 340.07"/>
<rect class="bd" x="101.4" y="61.8" width="459.95" height="430.2"/>
</g>
<path class="tk" d="M94.4 456.15H101.4M94.4 374.67H101.4M94.4 293.2H101.4M94.4 211.72H101.4M94.4 130.24H101.4M185.03 492.0v7.0M310.47 492.0v7.0M435.91 492.0v7.0"/>
<text class="a" text-anchor="end" transform="translate(88.1,465.05) scale(1,1.04)">40</text>
<text class="a" text-anchor="end" transform="translate(88.1,383.57) scale(1,1.04)">60</text>
<text class="a" text-anchor="end" transform="translate(88.1,302.1) scale(1,1.04)">80</text>
<text class="a" text-anchor="end" transform="translate(88.1,220.62) scale(1,1.04)">100</text>
<text class="a" text-anchor="end" transform="translate(88.1,139.14) scale(1,1.04)">120</text>
<text class="a" text-anchor="middle" transform="translate(185.03,522) scale(1,1.04)">0</text>
<text class="a" text-anchor="middle" transform="translate(309.92,522) scale(1,1.04)">10</text>
<text class="a" text-anchor="middle" transform="translate(435.36,522) scale(1,1.04)">20</text>
<text class="l" text-anchor="middle" x="331.38" y="555.8">Temperature</text>
<text class="l" text-anchor="middle" transform="translate(35.55,276.9) rotate(-90)">Count</text>
</g>
<g transform="translate(1152,576)">
<text class="t" x="100.9" y="39.8">df = 16</text>
<g clip-path="url(#pc)">
<rect x="101.4" y="61.8" width="459.95" height="430.2" fill="#fff"/>
<path class="mi" d="M101.4 415.41H561.35M101.4 333.93H561.35M101.4 252.46H561.35M101.4 170.98H561.35M101.4 89.5H561.35M122.31 61.8V492.0M247.75 61.8V492.0M373.19 61.8V492.0M498.63 61.8V492.0"/>
<path class="ma" d="M101.4 456.15H561.35M101.4 374.67H561.35M101.4 293.2H561.35M101.4 211.72H561.35M101.4 130.24H561.35M185.03 61.8V492.0M310.47 61.8V492.0M435.91 61.8V492.0"/>
<circle cx="122.31" cy="472.45" r="5.2"/>
<circle cx="129.28" cy="427.63" r="5.2"/>
<circle cx="157.15" cy="423.56" r="5.2"/>
<circle cx="178.06" cy="358.38" r="5.2"/>
<circle cx="198.97" cy="399.12" r="5.2"/>
<circle cx="212.9" cy="378.75" r="5.2"/>
<circle cx="212.9" cy="456.15" r="5.2"/>
<circle cx="219.87" cy="427.63" r="5.2"/>
<circle cx="247.75" cy="362.45" r="5.2"/>
<circle cx="268.65" cy="464.3" r="5.2"/>
<circle cx="282.59" cy="468.37" r="5.2"/>
<circle cx="296.53" cy="366.52" r="5.2"/>
<circle cx="289.56" cy="333.93" r="5.2"/>
<circle cx="345.31" cy="350.23" r="5.2"/>
<circle cx="150.18" cy="293.2" r="5.2"/>
<circle cx="178.06" cy="264.68" r="5.2"/>
<circle cx="226.84" cy="305.42" r="5.2"/>
<circle cx="247.75" cy="240.24" r="5.2"/>
<circle cx="275.62" cy="272.83" r="5.2"/>
<circle cx="275.62" cy="285.05" r="5.2"/>
<circle cx="275.62" cy="325.79" r="5.2"/>
<circle cx="282.59" cy="329.86" r="5.2"/>
<circle cx="289.56" cy="309.49" r="5.2"/>
<circle cx="303.5" cy="219.87" r="5.2"/>
<circle cx="303.5" cy="260.6" r="5.2"/>
<circle cx="317.44" cy="264.68" r="5.2"/>
<circle cx="317.44" cy="297.27" r="5.2"/>
<circle cx="394.1" cy="223.94" r="5.2"/>
<circle cx="394.1" cy="223.94" r="5.2"/>
<circle cx="394.1" cy="256.53" r="5.2"/>
<circle cx="394.1" cy="325.79" r="5.2"/>
<circle cx="456.82" cy="240.24" r="5.2"/>
<circle cx="491.66" cy="203.57" r="5.2"/>
<circle cx="491.66" cy="219.87" r="5.2"/>
<circle cx="491.66" cy="256.53" r="5.2"/>
<circle cx="498.63" cy="256.53" r="5.2"/>
<circle cx="484.69" cy="329.86" r="5.2"/>
<circle cx="540.44" cy="333.93" r="5.2"/>
<circle cx="380.16" cy="195.42" r="5.2"/>
<circle cx="421.97" cy="195.42" r="5.2"/>
<circle cx="435.91" cy="199.5" r="5.2"/>
<circle cx="470.75" cy="195.42" r="5.2"/>
<circle cx="373.19" cy="81.35" r="5.2"/>
<circle cx="470.75" cy="93.58" r="5.2"/>
<circle cx="491.66" cy="118.02" r="5.2"/>
<circle cx="463.78" cy="130.24" r="5.2"/>
<circle cx="442.88" cy="142.46" r="5.2"/>
<circle cx="442.88" cy="158.76" r="5.2"/>
<circle cx="387.13" cy="162.83" r="5.2"/>
<circle cx="345.31" cy="187.27" r="5.2"/>
<path class="cv" d="M122.31 468.8 L123.71 461.46 L125.1 454.14 L126.5 446.86 L127.9 439.63 L129.3 432.48 L130.7 425.41 L132.1 418.44 L133.49 411.6 L134.89 404.9 L136.29 398.36 L137.69 391.99 L139.09 385.82 L140.49 379.85 L141.89 374.12 L143.28 368.63 L144.68 363.41 L146.08 358.47 L147.48 353.83 L148.88 349.5 L150.28 345.51 L151.67 341.87 L153.07 338.6 L154.47 335.71 L155.87 333.24 L157.27 331.18 L158.67 329.56 L160.06 328.39 L161.46 327.65 L162.86 327.32 L164.26 327.37 L165.66 327.78 L167.06 328.53 L168.46 329.6 L169.85 330.97 L171.25 332.61 L172.65 334.49 L174.05 336.61 L175.45 338.93 L176.85 341.43 L178.24 344.1 L179.64 346.9 L181.04 349.82 L182.44 352.83 L183.84 355.92 L185.24 359.05 L186.64 362.21 L188.03 365.37 L189.43 368.52 L190.83 371.62 L192.23 374.67 L193.63 377.62 L195.03 380.47 L196.42 383.19 L197.82 385.76 L199.22 388.15 L200.62 390.35 L202.02 392.33 L203.42 394.07 L204.82 395.56 L206.21 396.78 L207.61 397.71 L209.01 398.34 L210.41 398.66 L211.81 398.63 L213.21 398.26 L214.6 397.52 L216 396.4 L217.4 394.87 L218.8 392.93 L220.2 390.55 L221.6 387.73 L223 384.46 L224.39 380.79 L225.79 376.79 L227.19 372.48 L228.59 367.94 L229.99 363.2 L231.39 358.32 L232.78 353.35 L234.18 348.34 L235.58 343.34 L236.98 338.4 L238.38 333.57 L239.78 328.91 L241.18 324.46 L242.57 320.28 L243.97 316.41 L245.37 312.91 L246.77 309.82 L248.17 307.21 L249.57 305.11 L250.96 303.58 L252.36 302.67 L253.76 302.43 L255.16 302.86 L256.56 303.9 L257.96 305.5 L259.35 307.61 L260.75 310.18 L262.15 313.17 L263.55 316.51 L264.95 320.16 L266.35 324.06 L267.75 328.17 L269.14 332.44 L270.54 336.8 L271.94 341.22 L273.34 345.65 L274.74 350.02 L276.14 354.29 L277.53 358.29 L278.93 361.73 L280.33 364.27 L281.73 365.6 L283.13 365.4 L284.53 363.34 L285.93 359.13 L287.32 352.82 L288.72 344.82 L290.12 335.56 L291.52 325.45 L292.92 314.91 L294.32 304.38 L295.71 294.27 L297.11 285 L298.51 277 L299.91 270.68 L301.31 266.29 L302.71 263.64 L304.11 262.54 L305.5 262.78 L306.9 264.14 L308.3 266.42 L309.7 269.42 L311.1 272.91 L312.5 276.7 L313.89 280.57 L315.29 284.32 L316.69 287.74 L318.09 290.61 L319.49 292.86 L320.89 294.49 L322.29 295.52 L323.68 296 L325.08 295.93 L326.48 295.34 L327.88 294.27 L329.28 292.73 L330.68 290.75 L332.07 288.35 L333.47 285.57 L334.87 282.42 L336.27 278.93 L337.67 275.13 L339.07 271.03 L340.46 266.67 L341.86 262.08 L343.26 257.26 L344.66 252.26 L346.06 247.09 L347.46 241.79 L348.86 236.37 L350.25 230.86 L351.65 225.29 L353.05 219.67 L354.45 214.05 L355.85 208.43 L357.25 202.85 L358.64 197.34 L360.04 191.91 L361.44 186.59 L362.84 181.42 L364.24 176.47 L365.64 171.8 L367.04 167.48 L368.43 163.57 L369.83 160.15 L371.23 157.28 L372.63 155.01 L374.03 153.43 L375.43 152.6 L376.82 152.57 L378.22 153.43 L379.62 155.23 L381.02 158.05 L382.42 161.94 L383.82 166.98 L385.22 173.23 L386.61 180.75 L388.01 189.62 L389.41 199.9 L390.81 211.65 L392.21 224.9 L393.61 238.77 L395 251.57 L396.4 262.65 L397.8 272.09 L399.2 279.94 L400.6 286.3 L402 291.24 L403.4 294.82 L404.79 297.13 L406.19 298.24 L407.59 298.23 L408.99 297.18 L410.39 295.15 L411.79 292.23 L413.18 288.49 L414.58 284 L415.98 278.85 L417.38 273.1 L418.78 266.84 L420.18 260.14 L421.57 253.06 L422.97 245.7 L424.37 238.13 L425.77 230.41 L427.17 222.63 L428.57 214.87 L429.97 207.19 L431.36 199.68 L432.76 192.4 L434.16 185.44 L435.56 178.87 L436.96 172.77 L438.36 167.2 L439.75 162.26 L441.15 158.01 L442.55 154.5 L443.95 151.73 L445.35 149.64 L446.75 148.2 L448.15 147.38 L449.54 147.12 L450.94 147.4 L452.34 148.17 L453.74 149.39 L455.14 151.03 L456.54 153.04 L457.93 155.39 L459.33 158.04 L460.73 160.95 L462.13 164.07 L463.53 167.38 L464.93 170.83 L466.33 174.39 L467.72 178.02 L469.12 181.69 L470.52 185.37 L471.92 189.02 L473.32 192.61 L474.72 196.09 L476.11 199.44 L477.51 202.63 L478.91 205.61 L480.31 208.35 L481.71 210.82 L483.11 212.98 L484.51 214.83 L485.9 216.43 L487.3 217.85 L488.7 219.19 L490.1 220.5 L491.5 221.88 L492.9 223.4 L494.29 225.06 L495.69 226.87 L497.09 228.81 L498.49 230.89 L499.89 233.11 L501.29 235.44 L502.69 237.9 L504.08 240.48 L505.48 243.17 L506.88 245.97 L508.28 248.87 L509.68 251.87 L511.08 254.97 L512.47 258.16 L513.87 261.44 L515.27 264.8 L516.67 268.24 L518.07 271.76 L519.47 275.34 L520.86 278.99 L522.26 282.69 L523.66 286.46 L525.06 290.28 L526.46 294.14 L527.86 298.05 L529.26 302 L530.65 305.98 L532.05 310 L533.45 314.04 L534.85 318.1 L536.25 322.18 L537.65 326.27 L539.04 330.37 L540.44 334.48"/>
<rect class="bd" x="101.4" y="61.8" width="459.95" height="430.2"/>
</g>
<path class="tk" d="M94.4 456.15H101.4M94.4 374.67H101.4M94.4 293.2H101.4M94.4 211.72H101.4M94.4 130.24H101.4M185.03 492.0v7.0M310.47 492.0v7.0M435.91 492.0v7.0"/>
<text class="a" text-anchor="end" transform="translate(88.1,465.05) scale(1,1.04)">40</text>
<text class="a" text-anchor="end" transform="translate(88.1,383.57) scale(1,1.04)">60</text>
<text class="a" text-anchor="end" transform="translate(88.1,302.1) scale(1,1.04)">80</text>
<text class="a" text-anchor="end" transform="translate(88.1,220.62) scale(1,1.04)">100</text>
<text class="a" text-anchor="end" transform="translate(88.1,139.14) scale(1,1.04)">120</text>
<text class="a" text-anchor="middle" transform="translate(185.03,522) scale(1,1.04)">0</text>
<text class="a" text-anchor="middle" transform="translate(309.92,522) scale(1,1.04)">10</text>
<text class="a" text-anchor="middle" transform="translate(435.36,522) scale(1,1.04)">20</text>
<text class="l" text-anchor="middle" x="331.38" y="555.8">Temperature</text>
<text class="l" text-anchor="middle" transform="translate(35.55,276.9) rotate(-90)">Count</text>
</g>
</svg>
</body></html>
